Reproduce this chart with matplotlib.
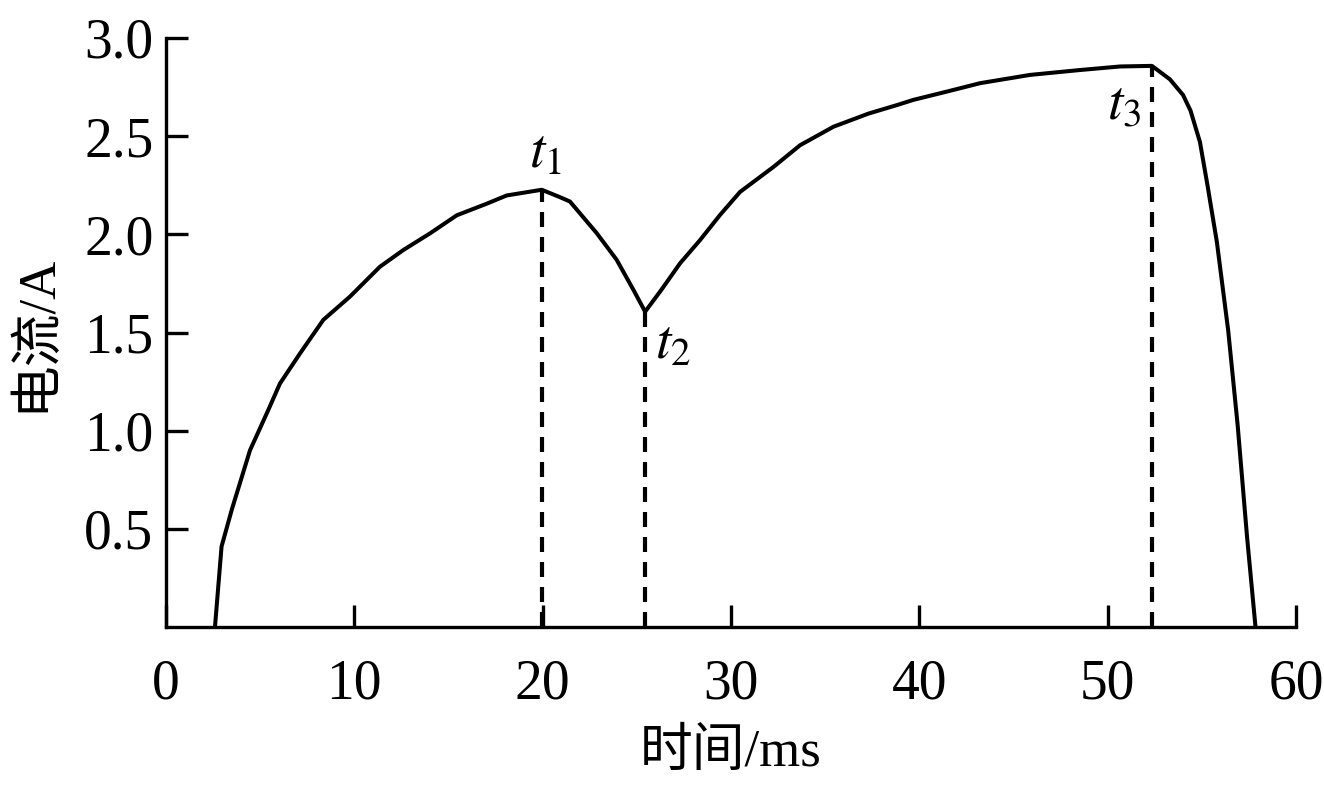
import matplotlib
matplotlib.use('Agg')
import matplotlib.pyplot as plt
import numpy as np

plt.rcParams['font.family'] = ['Liberation Serif', 'Noto Sans CJK SC']
plt.rcParams['mathtext.fontset'] = 'stix'

# current waveform (time in ms, current in A)
time_ms = [2.6, 2.95, 3.5, 4.46, 5.43, 6.05, 7.12, 8.35, 9.77, 11.36, 12.6, 14.02, 15.44,
           17.03, 18.09, 19.95,
           20.9, 21.45, 22.87, 23.93, 24.82, 25.44,
           26.3, 27.3, 28.36, 29.42, 30.48, 32.25, 33.67, 35.44, 37.3, 38.8, 39.69, 41.46,
           43.23, 45.88, 48.54, 50.66, 52.35,
           53.3, 54.0, 54.4, 54.9, 55.3, 55.8, 56.4, 56.9, 57.4, 57.85]
current_a = [0.0, 0.41, 0.60, 0.90, 1.105, 1.24, 1.394, 1.564, 1.683, 1.835, 1.92, 2.005, 2.097,
             2.156, 2.198, 2.227,
             2.19, 2.167, 2.006, 1.870, 1.717, 1.606,
             1.717, 1.853, 1.971, 2.099, 2.216, 2.343, 2.454, 2.548, 2.615, 2.658, 2.685, 2.727,
             2.770, 2.812, 2.837, 2.855, 2.858,
             2.79, 2.71, 2.63, 2.47, 2.25, 1.96, 1.51, 1.03, 0.46, 0.0]

marker_times = [19.95, 25.44, 52.35]
marker_labels = [r'$t_1$', r'$t_2$', r'$t_3$']

x_ticks = [0, 10, 20, 30, 40, 50, 60]
y_ticks = [0.5, 1.0, 1.5, 2.0, 2.5, 3.0]

fig = plt.figure(figsize=(13.24, 7.96), dpi=100)
ax = fig.add_axes([166 / 1324, 169 / 796, 1130 / 1324, 589 / 796])

ax.plot(time_ms, current_a, color='black', lw=2.9, solid_joinstyle='round',
        solid_capstyle='butt')

# dashed markers from the axis up to the curve
for t in marker_times:
    ax.plot([t, t], [0, np.interp(t, time_ms, current_a)], color='black', lw=3,
            linestyle=(0, (3.6, 2.4)))

ax.text(20.13, 2.28, marker_labels[0], fontsize=40, ha='center', va='bottom')
ax.text(25.95, 1.57, marker_labels[1], fontsize=40, ha='left', va='top')
ax.text(49.95, 2.79, marker_labels[2], fontsize=40, ha='left', va='top')

ax.set_xlim(0, 60)
ax.set_ylim(0, 3.0)
ax.set_xticks(x_ticks)
ax.set_xticklabels([str(v) for v in x_ticks])
ax.set_yticks(y_ticks)
ax.set_yticklabels([f'{v:.1f}' for v in y_ticks])

for side in ['top', 'right']:
    ax.spines[side].set_visible(False)
for side in ['left', 'bottom']:
    ax.spines[side].set_linewidth(2.4)
    ax.spines[side].set_capstyle('projecting')

ax.tick_params(axis='both', direction='in', length=16, width=2.4, labelsize=40)
ax.tick_params(axis='x', pad=23)
ax.tick_params(axis='y', pad=9)

ax.set_xlabel('时间/ms', fontsize=38, labelpad=13)
ax.set_ylabel('电流/A', fontsize=38, labelpad=17)

fig.savefig('out.png', dpi=100)
